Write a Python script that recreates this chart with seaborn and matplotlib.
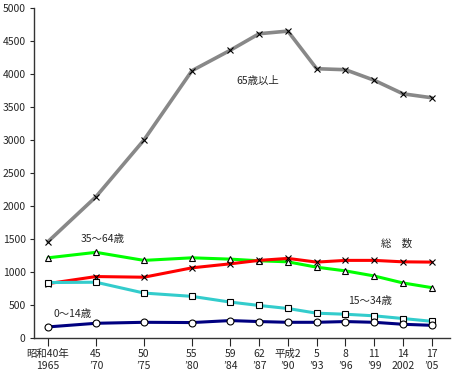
import matplotlib
matplotlib.use("Agg")
import matplotlib.pyplot as plt
import seaborn as sns
import pandas as pd

years = [1965, 1970, 1975, 1980, 1984, 1987, 1990, 1993, 1996, 1999, 2002, 2005]
tick_labels = ["昭和40年\n1965", "45\n’70", "50\n’75", "55\n’80", "59\n’84", "62\n’87",
               "平成2\n’90", "5\n’93", "8\n’96", "11\n’99", "14\n2002", "17\n’05"]

age65 = [1460, 2140, 3000, 4050, 4360, 4610, 4650, 4080, 4065, 3905, 3700, 3640]
age35_64 = [1215, 1298, 1176, 1215, 1195, 1170, 1154, 1073, 1017, 940, 834, 763]
total = [824, 931, 921, 1063, 1124, 1176, 1206, 1150, 1176, 1176, 1154, 1150]
age15_34 = [840, 845, 681, 631, 544, 493, 447, 376, 360, 336, 295, 253]
age0_14 = [168, 223, 238, 234, 264, 249, 238, 238, 249, 238, 208, 192]

sns.set_style("white")
plt.rcParams['font.family'] = ['Noto Sans CJK JP', 'DejaVu Sans']

fig = plt.figure(figsize=(4.53, 3.74), dpi=100)
ax = fig.add_axes([34/453, 1-338/374, (450-34)/453, (338-8)/374])

series = [
    (age65, "#888888", "x", 2.6, "black"),
    (age35_64, "#00ff00", "^", 2.2, "white"),
    (total, "#ff0000", "x", 2.2, "black"),
    (age15_34, "#33cccc", "s", 2.2, "white"),
    (age0_14, "#000080", "o", 2.2, "white"),
]
for vals, col, mk, lw, fc in series:
    df = pd.DataFrame({"year": years, "value": vals})
    sns.lineplot(data=df, x="year", y="value", ax=ax, color=col, linewidth=lw,
                 marker=mk, markersize=5 if mk != "x" else 5,
                 markerfacecolor=fc, markeredgecolor="black",
                 markeredgewidth=0.8)

ax.set_xlim(1963.54, 2006.9)
ax.set_ylim(0, 5000)
ax.set_yticks(range(0, 5001, 500))
ax.set_xticks(years)
ax.set_xticklabels(tick_labels, fontsize=7.5, linespacing=1.25)
ax.tick_params(axis='y', labelsize=7.5, length=3, width=0.8, direction='out', pad=3, left=True)
ax.tick_params(axis='x', length=6, width=0.8, direction='out', pad=2, bottom=True)
ax.set_xlabel("")
ax.set_ylabel("")
for s in ["top", "right"]:
    ax.spines[s].set_visible(False)
for s in ["left", "bottom"]:
    ax.spines[s].set_color("#333333")
    ax.spines[s].set_linewidth(1.0)

ax.text(1986.9, 3900, "65歳以上", fontsize=7.5, ha="center", va="center")
ax.text(1970.7, 1500, "35～64歳", fontsize=7.5, ha="center", va="center")
ax.text(1967.6, 371, "0～14歳", fontsize=7.5, ha="center", va="center")
ax.text(1998.6, 559, "15～34歳", fontsize=7.5, ha="center", va="center")
ax.text(2001.3, 1435, "総　数", fontsize=7.5, ha="center", va="center")

fig.savefig("out.png", dpi=100)
